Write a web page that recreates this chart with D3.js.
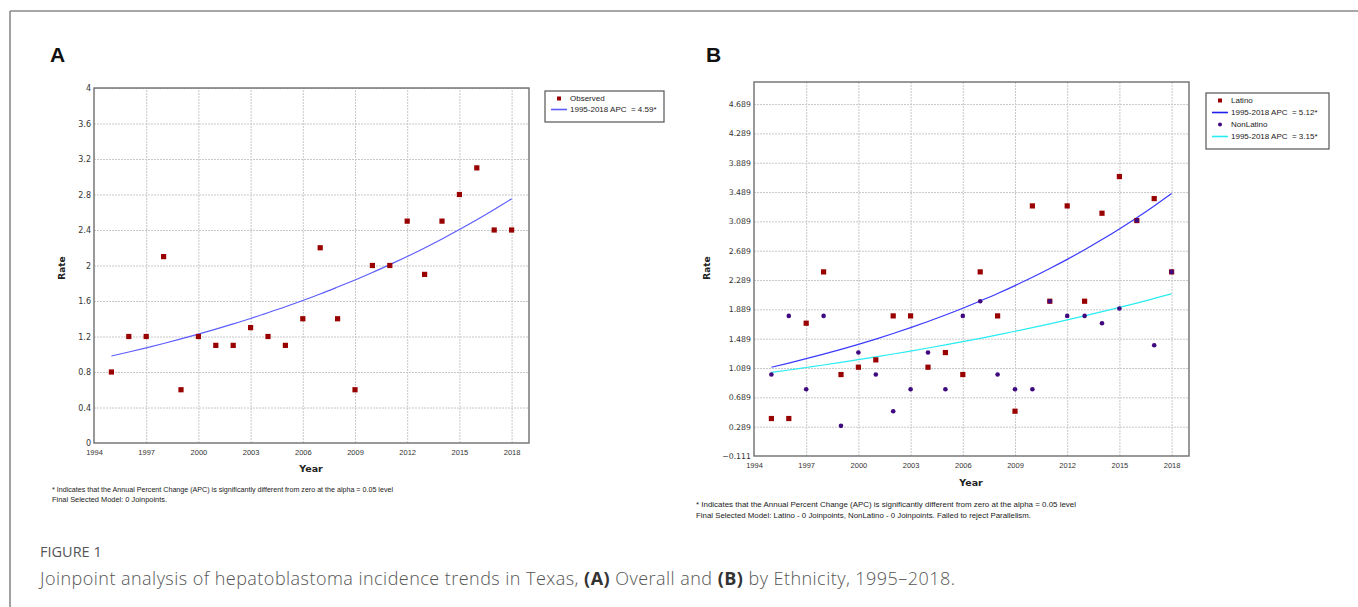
<!DOCTYPE html>
<html>
<head>
<meta charset="utf-8">
<script src="https://cdn.jsdelivr.net/npm/d3@7"></script>
<style>
  html, body { margin: 0; padding: 0; background: #fff; }
  svg { display: block; }
  text { white-space: pre; }
</style>
</head>
<body>
<svg id="chart" width="1358" height="607"></svg>
<script>
// ---------------- DATA ----------------
const years = [1995,1996,1997,1998,1999,2000,2001,2002,2003,2004,2005,2006,2007,2008,2009,2010,2011,2012,2013,2014,2015,2016,2017,2018];

// Panel A: overall
const observedA = [0.8,1.2,1.2,2.1,0.6,1.2,1.1,1.1,1.3,1.2,1.1,1.4,2.2,1.4,0.6,2.0,2.0,2.5,1.9,2.5,2.8,3.1,2.4,2.4];
const fittedA   = [0.98,1.025,1.072,1.121,1.173,1.227,1.283,1.342,1.403,1.468,1.535,1.606,1.679,1.757,1.837,1.921,2.010,2.102,2.198,2.299,2.405,2.515,2.631,2.751];

// Panel B: by ethnicity
const latino        = [0.4,0.4,1.7,2.4,1.0,1.1,1.2,1.8,1.8,1.1,1.3,1.0,2.4,1.8,0.5,3.3,2.0,3.3,2.0,3.2,3.7,3.1,3.4,2.4];
const nonLatino     = [1.0,1.8,0.8,1.8,0.3,1.3,1.0,0.5,0.8,1.3,0.8,1.8,2.0,1.0,0.8,0.8,2.0,1.8,1.8,1.7,1.9,3.1,1.4,2.4];
const fittedLatino  = [1.100,1.156,1.216,1.278,1.343,1.412,1.484,1.560,1.640,1.724,1.812,1.905,2.003,2.105,2.213,2.326,2.446,2.571,2.702,2.841,2.986,3.139,3.300,3.469];
const fittedNonLat  = [1.030,1.062,1.096,1.130,1.166,1.203,1.241,1.280,1.320,1.362,1.405,1.449,1.494,1.541,1.590,1.640,1.692,1.745,1.800,1.857,1.915,1.975,2.038,2.102];

// Axis ticks
const xTicks  = [1994,1997,2000,2003,2006,2009,2012,2015,2018];
const yTicksA = [0,0.4,0.8,1.2,1.6,2,2.4,2.8,3.2,3.6,4];
const yTicksB = [-0.111,0.289,0.689,1.089,1.489,1.889,2.289,2.689,3.089,3.489,3.889,4.289,4.689];

// Legend labels
const legendA = ["Observed", "1995-2018 APC  = 4.59*"];
const legendB = ["Latino", "1995-2018 APC  = 5.12*", "NonLatino", "1995-2018 APC  = 3.15*"];

// ---------------- DRAW ----------------
const svg = d3.select("#chart");
const RED = "#990000", PURPLE = "#3f0a80", BLUE_A = "#5c5cff", BLUE_B = "#3a3aff", CYAN = "#28ecf2";
const tickFont = "'DejaVu Sans', sans-serif";
const txtFont = "'Liberation Sans', Arial, sans-serif";

// figure frame
svg.append("line").attr("x1",10).attr("y1",11).attr("x2",1358).attr("y2",11)
  .attr("stroke","#8a8a8a").attr("stroke-width",1.6);
svg.append("line").attr("x1",10).attr("y1",11).attr("x2",10).attr("y2",607)
  .attr("stroke","#8a8a8a").attr("stroke-width",1.6);

function panel(opt) {
  const g = svg.append("g");
  const x = d3.scaleLinear().domain([1994, 2019]).range([opt.left, opt.right]);
  const y = d3.scaleLinear().domain(opt.yDomain).range([opt.bottom, opt.top]);
  const w = opt.right - opt.left, h = opt.bottom - opt.top;

  // grid
  g.append("g").attr("transform", `translate(0,${opt.bottom})`)
    .call(d3.axisBottom(x).tickValues(xTicks.slice(1)).tickSize(-h).tickFormat(""))
    .call(s => s.select(".domain").remove())
    .call(s => s.selectAll("line").attr("stroke","#c8c8c8").attr("stroke-dasharray","2,1"));
  g.append("g").attr("transform", `translate(${opt.left},0)`)
    .call(d3.axisLeft(y).tickValues(opt.yTicks.slice(1)).tickSize(-w).tickFormat(""))
    .call(s => s.select(".domain").remove())
    .call(s => s.selectAll("line").attr("stroke","#c8c8c8").attr("stroke-dasharray","2,1"));

  // frame
  g.append("rect").attr("x",opt.left).attr("y",opt.top).attr("width",w).attr("height",h)
    .attr("fill","none").attr("stroke","#6e6e6e").attr("stroke-width",1.4);

  // axis labels
  g.append("g").attr("transform", `translate(${opt.left},0)`)
    .call(d3.axisLeft(y).tickValues(opt.yTicks).tickSize(0).tickPadding(opt.yPad).tickFormat(opt.yFmt))
    .call(s => s.select(".domain").remove())
    .call(s => s.selectAll("text").attr("font-family",tickFont).attr("font-size",opt.yFont).attr("fill","#333"));
  g.append("g").attr("transform", `translate(0,${opt.bottom})`)
    .call(d3.axisBottom(x).tickValues(xTicks).tickSize(0).tickPadding(opt.xPad).tickFormat(d3.format("d")))
    .call(s => s.select(".domain").remove())
    .call(s => s.selectAll("text").attr("font-family",txtFont).attr("font-size",opt.xFont).attr("fill","#333"));

  // titles
  g.append("text").attr("x",opt.yearX).attr("y",opt.yearY).attr("text-anchor","middle")
    .attr("dominant-baseline","middle")
    .attr("font-family",tickFont).attr("font-weight","bold").attr("font-size",9.5).attr("fill","#222").text("Year");
  g.append("text").attr("transform",`translate(${opt.rateX},${opt.rateY}) rotate(-90)`).attr("text-anchor","middle")
    .attr("dominant-baseline","middle")
    .attr("font-family",tickFont).attr("font-weight","bold").attr("font-size",9).attr("fill","#222").text("Rate");

  // panel letter
  g.append("text").attr("x",opt.letterX).attr("y",62).attr("font-family","'Liberation Sans', Arial, sans-serif")
    .attr("font-weight","bold").attr("font-size",21).attr("fill","#111").text(opt.letter);

  // fitted lines
  opt.fits.forEach(f => {
    g.append("path").datum(years.map((yr,i)=>[yr,f.values[i]]))
      .attr("fill","none").attr("stroke",f.color).attr("stroke-width",1.2)
      .attr("d", d3.line().x(d=>x(d[0])).y(d=>y(d[1])).curve(d3.curveMonotoneX));
  });

  // points
  opt.points.forEach(p => {
    if (p.shape === "square") {
      g.append("g").selectAll("rect").data(years.map((yr,i)=>[yr,p.values[i]])).join("rect")
        .attr("x",d=>x(d[0])-2.6).attr("y",d=>y(d[1])-2.6).attr("width",5.2).attr("height",5.2)
        .attr("fill",p.color);
    } else {
      g.append("g").selectAll("circle").data(years.map((yr,i)=>[yr,p.values[i]])).join("circle")
        .attr("cx",d=>x(d[0])).attr("cy",d=>y(d[1])).attr("r",2.3).attr("fill",p.color);
    }
  });

  // legend
  const L = opt.legend;
  g.append("rect").attr("x",L.x).attr("y",L.y).attr("width",L.w).attr("height",L.h)
    .attr("fill","#fff").attr("stroke","#555").attr("stroke-width",1.2);
  L.items.forEach((it,i) => {
    const cy = L.y + L.first + i*L.step;
    if (it.type === "square") {
      g.append("rect").attr("x",L.mx-2).attr("y",cy-2).attr("width",4).attr("height",4).attr("fill",it.color);
    } else if (it.type === "circle") {
      g.append("circle").attr("cx",L.mx).attr("cy",cy).attr("r",2).attr("fill",it.color);
    } else {
      g.append("line").attr("x1",L.mx-8).attr("x2",L.mx+8).attr("y1",cy).attr("y2",cy)
        .attr("stroke",it.color).attr("stroke-width",1.6);
    }
    g.append("text").attr("x",L.tx).attr("y",cy).attr("dominant-baseline","middle")
      .attr("font-family",txtFont).attr("font-size",8).attr("fill","#222").text(it.label);
  });

  // footnotes
  opt.notes.forEach((n,i) => {
    g.append("text").attr("x",opt.noteX).attr("y",opt.noteY + i*opt.noteStep).attr("dominant-baseline","middle")
      .attr("font-family",txtFont).attr("font-size",opt.noteFont).attr("fill","#222")
      .attr("textLength",n.len).attr("lengthAdjust","spacingAndGlyphs").text(n.text);
  });
}

const fmtA = d => String(d);
const fmtB = d => d3.format(".3f")(d);

panel({
  letter:"A", letterX:50,
  left:94, right:529, top:88, bottom:443, yDomain:[0,4], yTicks:yTicksA, yFmt:fmtA,
  yPad:3, xPad:7, yFont:8, xFont:7.5,
  yearX:311, yearY:469, rateX:62, rateY:268,
  fits:[{values:fittedA, color:BLUE_A}],
  points:[{values:observedA, color:RED, shape:"square"}],
  legend:{x:545, y:91, w:119, h:31, first:7.5, step:11, mx:559, tx:570,
    items:[{type:"square",color:RED,label:legendA[0]},{type:"line",color:BLUE_A,label:legendA[1]}]},
  notes:[{text:"* Indicates that the Annual Percent Change (APC) is significantly different from zero at the alpha = 0.05 level", len:341},
         {text:"Final Selected Model: 0 Joinpoints.", len:115}],
  noteX:52, noteY:490, noteStep:9.7, noteFont:7.5
});

panel({
  letter:"B", letterX:706,
  left:754, right:1189, top:82, bottom:456, yDomain:[-0.111,4.99], yTicks:yTicksB, yFmt:fmtB,
  yPad:3, xPad:7, yFont:7.8, xFont:7.5,
  yearX:971, yearY:483, rateX:707, rateY:268,
  fits:[{values:fittedNonLat, color:CYAN},{values:fittedLatino, color:BLUE_B}],
  points:[{values:latino, color:RED, shape:"square"},{values:nonLatino, color:PURPLE, shape:"circle"}],
  legend:{x:1206, y:93, w:123, h:56, first:7.5, step:12, mx:1220, tx:1231,
    items:[{type:"square",color:RED,label:legendB[0]},{type:"line",color:"#2020ee",label:legendB[1]},
           {type:"circle",color:PURPLE,label:legendB[2]},{type:"line",color:CYAN,label:legendB[3]}]},
  notes:[{text:"* Indicates that the Annual Percent Change (APC) is significantly different from zero at the alpha = 0.05 level", len:380},
         {text:"Final Selected Model: Latino - 0 Joinpoints, NonLatino - 0 Joinpoints. Failed to reject Parallelism.", len:335}],
  noteX:696, noteY:505, noteStep:10.5, noteFont:8
});

// caption
svg.append("text").attr("x",40).attr("y",557).attr("font-family","'Open Sans', sans-serif")
  .attr("font-size",14.5).attr("font-weight",400).attr("fill","#555").text("FIGURE 1");
const cap = svg.append("text").attr("x",40).attr("y",585).attr("font-family","'Open Sans', sans-serif")
  .attr("font-size",18).attr("font-weight",300).attr("fill","#555")
  .attr("textLength",915).attr("lengthAdjust","spacing");
cap.append("tspan").text("Joinpoint analysis of hepatoblastoma incidence trends in Texas, ");
cap.append("tspan").attr("font-weight",700).attr("fill","#333").text("(A)");
cap.append("tspan").text(" Overall and ");
cap.append("tspan").attr("font-weight",700).attr("fill","#333").text("(B)");
cap.append("tspan").text(" by Ethnicity, 1995\u20132018.");
</script>
</body>
</html>
